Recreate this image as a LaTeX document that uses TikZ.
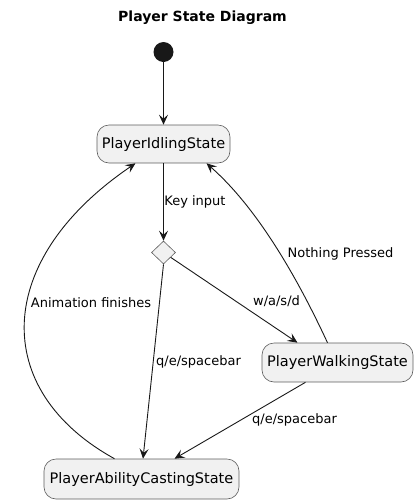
\documentclass[tikz,border=0pt]{standalone}
\usepackage{fontspec}
\setmainfont{DejaVu Sans}
\usetikzlibrary{calc,arrows.meta,shapes.geometric}
\definecolor{nodefill}{HTML}{F1F1F1}
\definecolor{linec}{HTML}{181818}
\tikzset{
  state/.style={draw=linec!70, line width=0.6pt, fill=nodefill, rounded corners=12pt, inner sep=0pt, font=\fontsize{14.5}{16}\selectfont, text=black},
  edge/.style={draw=linec, line width=0.9pt, -{Stealth[length=10pt,width=9pt,inset=4pt]}},
  lbl/.style={font=\fontsize{13}{15}\selectfont, text=black, inner sep=0pt},
}
\begin{document}
\begin{tikzpicture}[x=1pt,y=-1pt]
\useasboundingbox (0,0) rectangle (418,504);
\node[font=\bfseries\fontsize{14}{16}\selectfont] (title) at (202.5,18) {Player State Diagram};
\node[circle, fill=linec, minimum size=20pt, inner sep=0pt] (start) at (163.5,52) {};
\node[state, minimum width=133pt, minimum height=38pt] (idle) at (163.5,144) {PlayerIdlingState};
\node[diamond, draw=linec!70, line width=0.6pt, fill=nodefill, minimum width=24pt, minimum height=23pt, inner sep=0pt] (dia) at (163.5,252.5) {};
\node[state, minimum width=151pt, minimum height=39pt] (walk) at (337.5,362.5) {PlayerWalkingState};
\node[state, minimum width=195pt, minimum height=40pt] (cast) at (141.5,479) {PlayerAbilityCastingState};

\draw[edge] (start) -- (idle);
\draw[edge] (idle) -- (dia);
\draw[edge] (dia) -- ($(walk.north)+(-40,0)$);
\draw[edge] (dia.south) -- ($(cast.north)+(1.5,0)$);
\draw[edge] ($(walk.south)+(-32,0)$) -- ($(cast.north)+(33,0)$);
\draw[edge] ($(walk.north)+(-10,0)$) .. controls (303,290) and (262,212) .. ($(idle.south)+(43,0)$);
\draw[edge] ($(cast.north)+(-27,0)$) .. controls (-10,390) and (-7,260) .. ($(idle.south)+(-28,0)$);

\node[lbl] (l1) at (195,202) {Key input};
\node[lbl] (l2) at (340.5,254) {Nothing Pressed};
\node[lbl] (l3) at (91,303) {Animation finishes};
\node[lbl] (l4) at (276.5,301) {w/a/s/d};
\node[lbl] (l5) at (198.5,362) {q/e/spacebar};
\node[lbl] (l6) at (294.5,420) {q/e/spacebar};
\end{tikzpicture}
\end{document}
